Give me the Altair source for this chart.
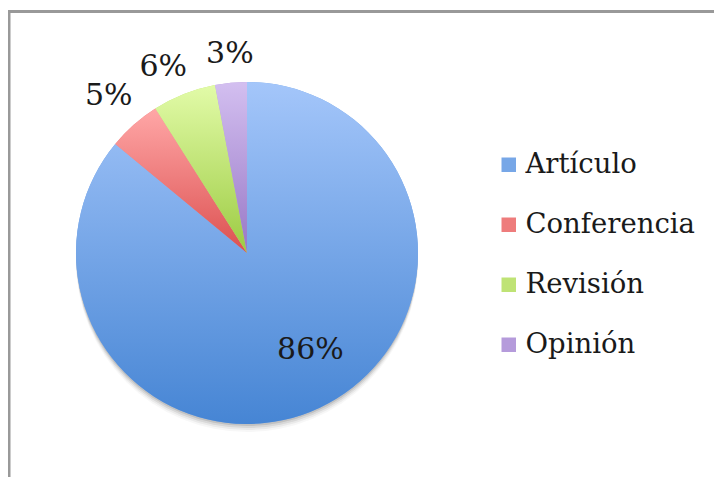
import math
import altair as alt
import pandas as pd

# ---- data ----
categories = ["Artículo", "Conferencia", "Revisión", "Opinión"]
values = [86, 5, 6, 3]
labels = ["86%", "5%", "6%", "3%"]
order = [0, 1, 2, 3]

top_colors = ["#a4c6fa", "#ffa7a7", "#e2fba8", "#d3bff0"]
bottom_colors = ["#4685d4", "#dc5050", "#9ccb42", "#9878c6"]
mid_colors = ["#77a7e7", "#ee7c7c", "#bfe375", "#b59bdb"]

df = pd.DataFrame({"cat": categories, "value": values, "label": labels, "order": order})

W, H = 706, 469
CX, CY, R = 239, 245, 171
TAU = 2 * math.pi
FONT = "DejaVu Serif"
TXT = "#1a1a1a"

theta_scale = alt.Scale(domain=[0, 100], range=[0, TAU])

base = (
    alt.Chart(df)
    .transform_window(cum="sum(value)", sort=[alt.SortField("order")])
    .transform_calculate(start="datum.cum - datum.value", mid="datum.cum - datum.value / 2")
)

dummy = alt.Chart(pd.DataFrame({"d": [0]}))

# chart border (top and left visible)
border_top = dummy.mark_rule(color="#999999", strokeWidth=3).encode(
    x=alt.value(0), x2=alt.value(W), y=alt.value(3.5)
)
border_left = dummy.mark_rule(color="#999999", strokeWidth=3).encode(
    x=alt.value(1), y=alt.value(3.5), y2=alt.value(H)
)

# soft shadow beneath the pie
shadows = []
for off, op in [(2, 0.10), (4, 0.08), (6, 0.05), (8, 0.03)]:
    shadows.append(
        dummy.mark_arc(radius=R, theta=0, theta2=TAU, fill="#000000", opacity=op).encode(
            x=alt.value(CX), y=alt.value(CY + off)
        )
    )

# base layer (provides legend)
legend_layer = base.mark_arc(radius=R).encode(
    x=alt.value(CX),
    y=alt.value(CY),
    theta=alt.Theta("start:Q", scale=theta_scale),
    theta2="cum:Q",
    color=alt.Color(
        "cat:N",
        scale=alt.Scale(domain=categories, range=mid_colors),
        legend=alt.Legend(
            title=None,
            orient="none",
            legendX=487,
            legendY=143,
            symbolType="square",
            symbolSize=210,
            symbolStrokeWidth=0,
            labelFont=FONT,
            labelFontSize=27.5,
            labelColor=TXT,
            labelOffset=3,
            labelLimit=0,
            rowPadding=31,
            padding=0,
        ),
    ),
)

# gradient slices
grad_layers = []
for i, c in enumerate(categories):
    grad = alt.Gradient(
        gradient="linear",
        stops=[
            alt.GradientStop(color=top_colors[i], offset=0),
            alt.GradientStop(color=bottom_colors[i], offset=1),
        ],
        x1=0, x2=0, y1=0, y2=1,
    )
    grad_layers.append(
        base.transform_filter(alt.datum.cat == c)
        .mark_arc(radius=R, fill=grad)
        .encode(
            x=alt.value(CX),
            y=alt.value(CY),
            theta=alt.Theta("start:Q", scale=theta_scale),
            theta2="cum:Q",
        )
    )

# labels (label offsets mimic Excel's best-fit placement)
label_style = [(116, 14, -8), (203, -4, -5), (203, -9, 3), (203, 2, 3)]
label_layers = []
for i, c in enumerate(categories):
    r, dx, dy = label_style[i]
    label_layers.append(
        base.transform_filter(alt.datum.cat == c)
        .mark_text(font=FONT, fontSize=30, color=TXT, align="center", baseline="middle", dx=dx, dy=dy)
        .encode(
            x=alt.value(CX),
            y=alt.value(CY),
            theta=alt.Theta("mid:Q", scale=theta_scale),
            radius=alt.value(r),
            text="label:N",
        )
    )

chart = (
    alt.layer(border_top, border_left, *shadows, legend_layer, *grad_layers, *label_layers)
    .properties(width=W, height=H, padding=0, autosize=alt.AutoSizeParams(type="none"), background="white")
    .configure_view(stroke=None)
)

chart.save("out.html", embed_options={"renderer": "svg", "actions": False})
